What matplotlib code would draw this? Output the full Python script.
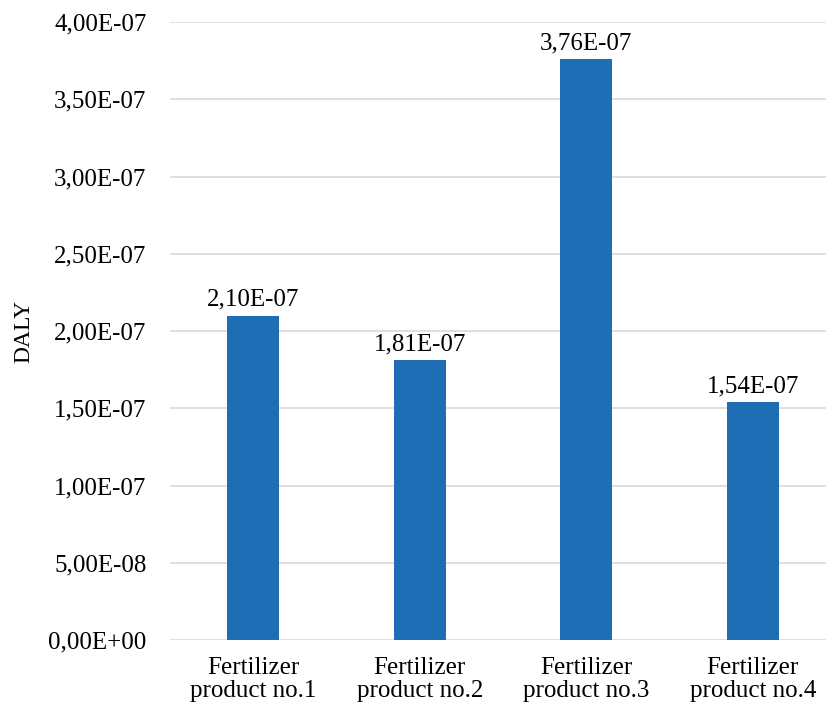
import matplotlib
matplotlib.use('Agg')
import matplotlib.pyplot as plt
from matplotlib.ticker import FuncFormatter, MultipleLocator

plt.rcParams['font.family'] = ['Liberation Serif', 'DejaVu Serif']

categories = ['Fertilizer\nproduct no.1', 'Fertilizer\nproduct no.2',
              'Fertilizer\nproduct no.3', 'Fertilizer\nproduct no.4']
daly = [2.10e-07, 1.81e-07, 3.76e-07, 1.54e-07]


def sci_comma(v, pos=None):
    return f'{v:.2E}'.replace('.', ',')


fs = 18
fig = plt.figure(figsize=(8.26, 7.06), dpi=100)
ax = fig.add_axes([170 / 826, 66 / 706, 656 / 826, 618 / 706])

x = range(len(categories))
bars = ax.bar(x, daly, width=0.31, color='#1f6eb5', zorder=3)
for b, v in zip(bars, daly):
    ax.text(b.get_x() + b.get_width() / 2, v + 0.03e-07, sci_comma(v),
            ha='center', va='bottom', fontsize=fs)

ax.set_xlim(-0.5, 3.44)
ax.set_ylim(0, 4.0e-07)
ax.yaxis.set_major_locator(MultipleLocator(0.5e-07))
ax.yaxis.set_major_formatter(FuncFormatter(sci_comma))
ax.set_xticks(list(x))
ax.set_xticklabels(categories, fontsize=fs, linespacing=1.05)
ax.tick_params(axis='y', labelsize=fs, length=0, pad=17)
ax.tick_params(axis='x', length=0, pad=12)
ax.grid(axis='y', color='#d9d9d9', linewidth=1.2, zorder=0)
for s in ax.spines.values():
    s.set_visible(False)
ax.set_ylabel('DALY', fontsize=17, labelpad=10)

fig.savefig('out.png', dpi=100)
